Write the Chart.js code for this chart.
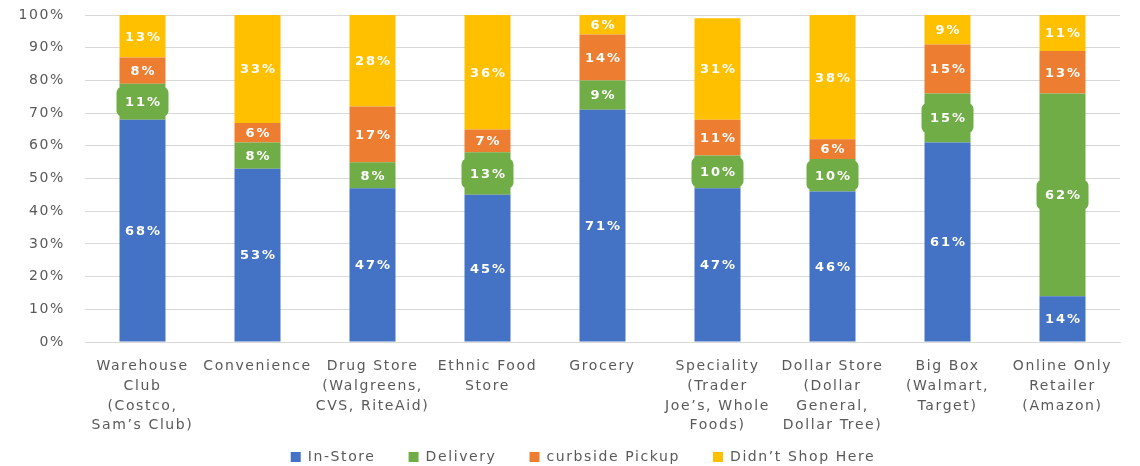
<!DOCTYPE html>
<html>
<head>
<meta charset="utf-8">
<script src="https://cdn.jsdelivr.net/npm/chart.js@4.4.1/dist/chart.umd.min.js"></script>
<style>
  html, body { margin: 0; padding: 0; background: #ffffff; }
  #wrap { width: 1140px; height: 466px; position: relative; }
</style>
</head>
<body>
<div id="wrap"><canvas id="chart" width="1140" height="466"></canvas></div>
<script>
// Store types (multi-line axis labels)
const storeTypes = [
  ["Warehouse", "Club", "(Costco,", "Sam\u2019s Club)"],
  ["Convenience"],
  ["Drug Store", "(Walgreens,", "CVS, RiteAid)"],
  ["Ethnic Food", "Store"],
  ["Grocery"],
  ["Speciality", "(Trader", "Joe\u2019s, Whole", "Foods)"],
  ["Dollar Store", "(Dollar", "General,", "Dollar Tree)"],
  ["Big Box", "(Walmart,", "Target)"],
  ["Online Only", "Retailer", "(Amazon)"]
];

// Share of respondents (%) by shopping mode
const inStore     = [68, 53, 47, 45, 71, 47, 46, 61, 14];
const delivery    = [11,  8,  8, 13,  9, 10, 10, 15, 62];
const curbside    = [ 8,  6, 17,  7, 14, 11,  6, 15, 13];
const didntShop   = [13, 33, 28, 36,  6, 31, 38,  9, 11];

const seriesNames = ["In-Store", "Delivery", "curbside Pickup", "Didn\u2019t Shop Here"];
const yTicks = [0, 10, 20, 30, 40, 50, 60, 70, 80, 90, 100];

const COLORS = ["#4472C4", "#70AD47", "#ED7D31", "#FFC000"];
const FONT = "'DejaVu Sans', sans-serif";
const SPACING = "1.6px";

// Wide, airy lettering for every text element on the canvas
const textSpacing = {
  id: "textSpacing",
  beforeUpdate(chart) { chart.ctx.letterSpacing = SPACING; },
  beforeLayout(chart) { chart.ctx.letterSpacing = SPACING; },
  beforeDraw(chart) { chart.ctx.letterSpacing = SPACING; }
};

// Lets the category labels run under the legend band, and nudges the legend right
const layoutTweaks = {
  id: "layoutTweaks",
  afterLayout(chart) {
    const xs = chart.scales.x;
    xs.bottom = xs.top + 105;
    xs.height = 105;
    const lg = chart.legend;
    lg.left += 23;
    lg.right += 23;
  }
};

// Draws the percentage inside each segment; larger Delivery values get a green callout box
const segmentLabels = {
  id: "segmentLabels",
  afterDatasetsDraw(chart) {
    const ctx = chart.ctx;
    ctx.save();
    ctx.letterSpacing = "2px";
    chart.data.datasets.forEach((ds, di) => {
      const meta = chart.getDatasetMeta(di);
      meta.data.forEach((el, i) => {
        const v = ds.data[i];
        const top = Math.max(el.y, chart.chartArea.top);
        const cy = (top + el.base) / 2;
        const cx = el.x;
        if (di === 1 && v >= 10) {
          const w = el.width + 6, h = 30;
          ctx.fillStyle = COLORS[1];
          ctx.beginPath();
          ctx.roundRect(cx - w / 2, cy - h / 2, w, h, 6);
          ctx.fill();
        }
        ctx.fillStyle = "#ffffff";
        ctx.font = "bold 13px " + FONT;
        ctx.textAlign = "center";
        ctx.textBaseline = "middle";
        ctx.fillText(v + "%", cx + 1, cy + 1);
      });
    });
    ctx.restore();
  }
};

const seriesValues = [inStore, delivery, curbside, didntShop];

new Chart(document.getElementById("chart"), {
  type: "bar",
  data: {
    labels: storeTypes,
    datasets: seriesNames.map((name, k) => ({
      label: name,
      data: seriesValues[k],
      backgroundColor: COLORS[k],
      borderWidth: 0,
      categoryPercentage: 1,
      barPercentage: 0.4
    }))
  },
  options: {
    responsive: false,
    animation: false,
    devicePixelRatio: 1,
    layout: { padding: { top: 15, right: 20, left: 0, bottom: -8 } },
    plugins: {
      tooltip: { enabled: false },
      legend: {
        position: "bottom",
        labels: {
          boxWidth: 10,
          boxHeight: 10,
          padding: 33,
          color: "#595959",
          font: { family: FONT, size: 14 }
        }
      }
    },
    scales: {
      x: {
        stacked: true,
        grid: { display: false, drawTicks: false },
        border: { display: true, color: "#d9d9d9" },
        ticks: {
          color: "#595959",
          font: { family: FONT, size: 14, lineHeight: 1.4 },
          padding: 15,
          maxRotation: 0,
          autoSkip: false
        },
        afterFit(scale) { scale.height = 75; }
      },
      y: {
        stacked: true,
        min: 0,
        max: 100,
        afterBuildTicks(scale) { scale.ticks = yTicks.map(v => ({ value: v })); },
        grid: { color: "#d9d9d9", drawTicks: false },
        border: { display: false },
        ticks: {
          color: "#595959",
          font: { family: FONT, size: 14 },
          padding: 20,
          callback: v => v + "%"
        },
        afterFit(scale) {
          scale.width = 85;
          scale.paddingTop = 0;
          scale.paddingBottom = 0;
        }
      }
    }
  },
  plugins: [textSpacing, layoutTweaks, segmentLabels]
});
</script>
</body>
</html>
